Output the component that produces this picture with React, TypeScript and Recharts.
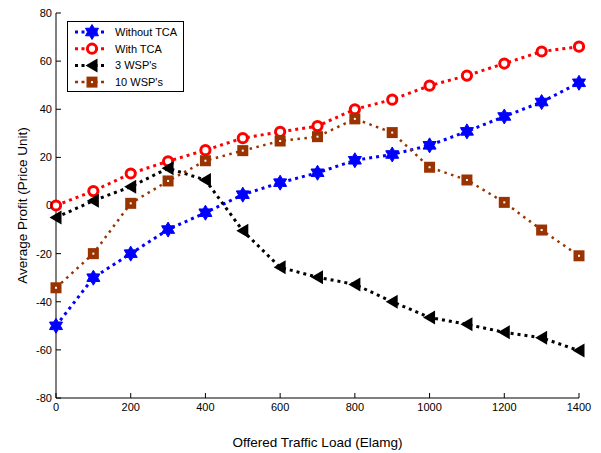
import { LineChart, Line, XAxis, YAxis } from 'recharts';

const loads = [0, 100, 200, 300, 400, 500, 600, 700, 800, 900, 1000, 1100, 1200, 1300, 1400];
const withoutTca = [-50, -30, -20, -10, -3, 4.5, 9.5, 13.6, 18.8, 21.2, 25, 30.8, 37, 43, 51];
const withTca = [0, 6, 13.3, 18.4, 23, 28, 30.6, 33, 40, 44, 49.8, 54, 59, 64, 66];
const wsp3 = [-5, 2, 7.8, 15.5, 10.6, -10.5, -25.7, -29.8, -32.8, -40, -46.5, -49.4, -52.7, -55, -60.3];
const wsp10 = [-34.2, -20, 0.9, 10.2, 18.6, 22.8, 26.8, 28.6, 36, 30.3, 15.9, 10.6, 1.3, -10.2, -20.9];

const xTicks = [0, 200, 400, 600, 800, 1000, 1200, 1400];
const yTicks = [-80, -60, -40, -20, 0, 20, 40, 60, 80];

const data = loads.map((x, i) => ({
  x,
  without: withoutTca[i],
  with: withTca[i],
  w3: wsp3[i],
  w10: wsp10[i],
}));

const BLUE = '#0000ff';
const RED = '#ff0000';
const BLACK = '#000000';
const BROWN = '#993300';
const font = '"Liberation Sans", Arial, sans-serif';

function Star({ cx, cy }: { cx: number; cy: number }) {
  const pts: string[] = [];
  for (let i = 0; i < 12; i++) {
    const r = i % 2 === 0 ? 7.5 : 4.4;
    const a = (Math.PI / 6) * i - Math.PI / 2;
    pts.push(`${cx + r * Math.cos(a)},${cy + r * Math.sin(a)}`);
  }
  return <polygon points={pts.join(' ')} fill={BLUE} stroke={BLUE} strokeWidth={1} />;
}

function Ring({ cx, cy }: { cx: number; cy: number }) {
  return <circle cx={cx} cy={cy} r={4.6} fill="#fff" stroke={RED} strokeWidth={3} />;
}

function Tri({ cx, cy }: { cx: number; cy: number }) {
  return (
    <polygon
      points={`${cx - 6.5},${cy} ${cx + 5.5},${cy - 7} ${cx + 5.5},${cy + 7}`}
      fill={BLACK}
    />
  );
}

function Box({ cx, cy }: { cx: number; cy: number }) {
  return (
    <g>
      <rect x={cx - 5.5} y={cy - 5.5} width={11} height={11} fill={BROWN} />
      <rect x={cx - 1} y={cy - 1} width={2} height={2} fill="#fff" />
    </g>
  );
}

const dot = (M: any) => (p: any) => (
  <g key={p.key ?? `${p.index}`}>
    <M cx={p.cx} cy={p.cy} />
  </g>
);

const legendItems = [
  { name: 'Without TCA', color: BLUE, M: Star, w: 3 },
  { name: 'With TCA', color: RED, M: Ring, w: 3 },
  { name: "3 WSP's", color: BLACK, M: Tri, w: 3 },
  { name: "10 WSP's", color: BROWN, M: Box, w: 2.5 },
];

function LegendBox() {
  return (
    <svg
      width={118}
      height={72}
      style={{ position: 'absolute', left: 67, top: 21 }}
    >
      <rect x={0.5} y={0.5} width={116} height={70} fill="#fff" stroke="#000" strokeWidth={1} />
      {legendItems.map((it, i) => {
        const y = 11 + i * 16.7;
        return (
          <g key={it.name}>
            <line x1={8} x2={40} y1={y} y2={y} stroke={it.color} strokeWidth={it.w} strokeDasharray="3 3.5" />
            <it.M cx={25} cy={y} />
            <text x={48} y={y + 4} fontSize={11} fontFamily={font} fill="#000">
              {it.name}
            </text>
          </g>
        );
      })}
    </svg>
  );
}

export default function App() {
  const tickStyle = { fontSize: 11, fontFamily: font, fill: '#000' };
  const labelStyle = { fontSize: 13.5, fontFamily: font, fill: '#000' };
  return (
    <div style={{ position: 'absolute', left: 0, top: 0, width: 601, height: 453, background: '#fff' }}>
      <LineChart width={601} height={453} data={data} margin={{ top: 13, right: 22, bottom: 0, left: 0 }}>
        <XAxis
          dataKey="x"
          type="number"
          domain={[0, 1400]}
          ticks={xTicks}
          height={55}
          tickSize={-5}
          tickMargin={10}
          tick={tickStyle}
          stroke="#000"
          label={{ value: 'Offered Traffic Load (Elamg)', position: 'insideBottom', offset: 6, style: labelStyle }}
        />
        <XAxis
          xAxisId="top"
          dataKey="x"
          type="number"
          orientation="top"
          domain={[0, 1400]}
          ticks={xTicks}
          height={0}
          tickSize={-5}
          tick={false}
          stroke="#000"
        />
        <YAxis
          type="number"
          domain={[-80, 80]}
          ticks={yTicks}
          width={56}
          tickSize={-5}
          tickMargin={9}
          tick={tickStyle}
          stroke="#000"
          label={{ value: 'Average Profit (Price Unit)', angle: -90, position: 'insideLeft', offset: 22, style: { ...labelStyle, textAnchor: 'middle' } }}
        />
        <YAxis
          yAxisId="right"
          type="number"
          orientation="right"
          domain={[-80, 80]}
          ticks={yTicks}
          width={0}
          tickSize={-5}
          tick={false}
          stroke="#000"
        />
        <Line dataKey="without" stroke={BLUE} strokeWidth={3} strokeDasharray="3 4" dot={dot(Star)} isAnimationActive={false} />
        <Line dataKey="with" stroke={RED} strokeWidth={3} strokeDasharray="3 4" dot={dot(Ring)} isAnimationActive={false} />
        <Line dataKey="w3" stroke={BLACK} strokeWidth={3} strokeDasharray="3 4" dot={dot(Tri)} isAnimationActive={false} />
        <Line dataKey="w10" stroke={BROWN} strokeWidth={2.5} strokeDasharray="2.5 4.5" dot={dot(Box)} isAnimationActive={false} />
      </LineChart>
      <LegendBox />
    </div>
  );
}
